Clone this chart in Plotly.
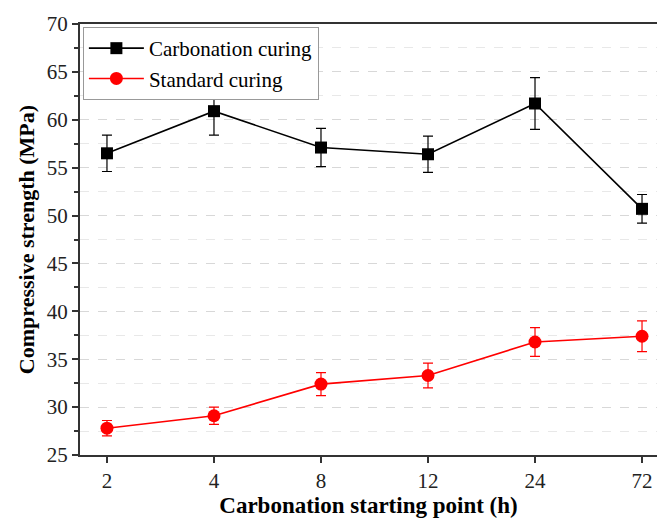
import plotly.graph_objects as go

categories = ["2", "4", "8", "12", "24", "72"]
carb = [56.5, 60.9, 57.1, 56.4, 61.7, 50.7]
carb_err = [1.9, 2.5, 2.0, 1.9, 2.7, 1.5]
std = [27.8, 29.1, 32.4, 33.3, 36.8, 37.4]
std_err = [0.8, 0.9, 1.2, 1.3, 1.5, 1.6]

FONT = "Liberation Serif, Times New Roman, serif"

fig = go.Figure()
fig.add_trace(go.Scatter(
    x=categories, y=carb, name="Carbonation curing", mode="lines+markers",
    line=dict(color="black", width=1.6),
    marker=dict(symbol="square", size=12, color="black"),
    error_y=dict(type="data", array=carb_err, visible=True, color="black", thickness=1.2, width=5),
))
fig.add_trace(go.Scatter(
    x=categories, y=std, name="Standard curing", mode="lines+markers",
    line=dict(color="red", width=1.6),
    marker=dict(symbol="circle", size=13, color="red"),
    error_y=dict(type="data", array=std_err, visible=True, color="red", thickness=1.2, width=5),
))

fig.update_layout(
    width=657, height=518,
    margin=dict(l=80, r=0, t=24, b=63),
    paper_bgcolor="white", plot_bgcolor="white",
    font=dict(family=FONT, size=21, color="#222"),
    showlegend=True,
    legend=dict(x=0.005, y=0.993, xanchor="left", yanchor="top",
                bordercolor="#999", borderwidth=1, bgcolor="white",
                font=dict(family=FONT, size=21, color="black"),
                tracegroupgap=0, itemwidth=55),
    xaxis=dict(
        type="category", range=[-0.252, 5.14],
        showline=True, linecolor="#333", linewidth=2, mirror=True,
        ticks="outside", ticklen=6, tickwidth=1.5, tickcolor="#333",
        showgrid=False, zeroline=False,
        tickfont=dict(family=FONT, size=21, color="#222"),
        title=dict(text="<b>Carbonation starting point (h)</b>",
                   font=dict(family=FONT, size=23, color="black"), standoff=10),
    ),
    yaxis=dict(
        range=[25, 70], dtick=5, tick0=25,
        showline=True, linecolor="#333", linewidth=2, mirror=False,
        ticks="outside", ticklen=6, tickwidth=1.5, tickcolor="#333",
        showgrid=True, gridcolor="#d8d8d8", griddash="dash", gridwidth=1,
        zeroline=False,
        tickfont=dict(family=FONT, size=21, color="#222"),
        minor=dict(dtick=2.5, tick0=25, ticks="outside", ticklen=4, tickcolor="#333",
                   showgrid=True, gridcolor="#e8e8e8", griddash="dash", gridwidth=1),
        title=dict(text="<b>Compressive strength (MPa)</b>",
                   font=dict(family=FONT, size=22, color="black"), standoff=6),
    ),
)

fig.write_html("out.html")
